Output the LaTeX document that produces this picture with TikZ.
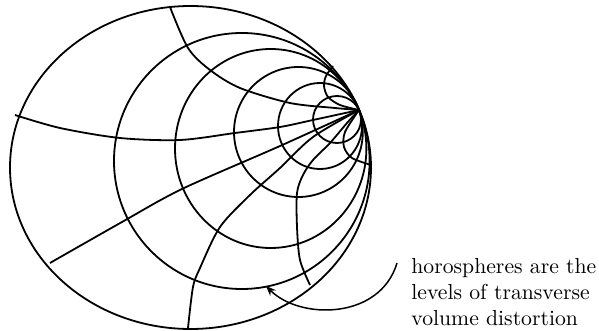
\documentclass[tikz,border=0pt]{standalone}
\usepackage{tikz}
\usetikzlibrary{arrows.meta}
\begin{document}
\begin{tikzpicture}[
        x=0.5pt, y=-0.5pt,
        bound/.style={line width=0.9pt},
        horo/.style={line width=0.9pt},
        geod/.style={line width=0.9pt},
        pointer/.style={line width=0.75pt, -{Stealth[length=5pt, width=4pt]}},
        note/.style={anchor=north west, align=left, inner sep=0pt,
            font=\fontsize{10.85}{13}\selectfont}
    ]
    \useasboundingbox (0,0) rectangle (599,331);
    \coordinate (P) at (359,110);
    \draw[bound] (190.5,167.5) ellipse [x radius=180.5, y radius=161.5];
    \foreach \cx/\cy/\rx/\ry in {337/119.5/24/23.5, 320/126/42/43, 298.4/132/64.4/65,
            270.7/148.5/95.7/99.5, 241.8/161/127.8/128}
        \draw[horo] (\cx,\cy) ellipse [x radius=\rx, y radius=\ry];
    \draw[geod] plot[smooth] coordinates {(170,7) (188,48) (210,70) (240,88) (290,103) (335,108) (P)};
    \draw[geod] plot[smooth] coordinates {(15,115) (60,128) (120,138) (180,140) (235,133) (280,127) (313,120) (P)};
    \draw[geod] plot[smooth] coordinates {(50,263) (122,222) (182,189) (280,146) (P)};
    \draw[geod] plot[smooth] coordinates {(188,328) (193,287) (200,268) (220,227) (250,195) (280,168) (313,137) (P)};
    \draw[geod] plot[smooth] coordinates {(310,285) (300,260) (297,227) (297,193) (303,175) (313,160) (330,143) (347,123) (P)};
    \draw[geod] plot[smooth] coordinates {(P) (345,132) (344,147) (352,158) (371,165)};
    \draw[geod] plot[smooth] coordinates {(P) (340,105) (328,97) (324,86) (326,76) (333,66)};
    \node[note] (caption) at (411,258) {horospheres are the\\levels of transverse\\volume distortion};
    \coordinate (tail) at (397,263);
    \coordinate (tip) at (266,286);
    \draw[pointer] (tail) .. controls (380,320) and (300,320) .. (tip);
\end{tikzpicture}
\end{document}
